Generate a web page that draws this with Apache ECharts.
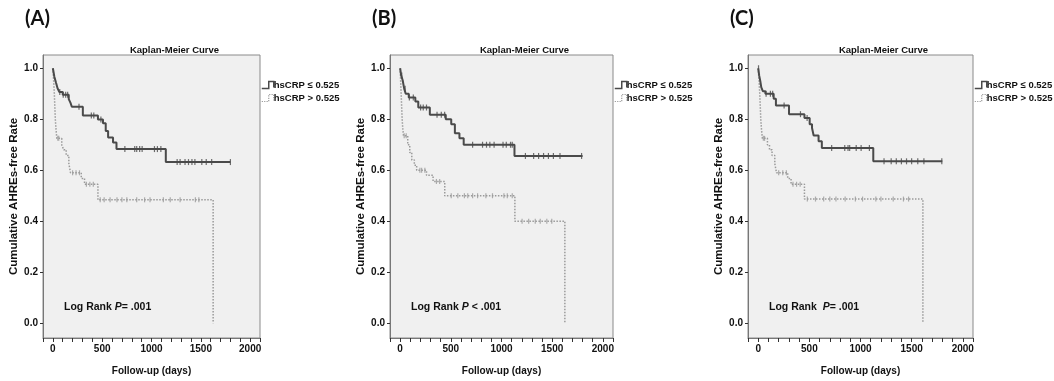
<!DOCTYPE html>
<html><head><meta charset="utf-8">
<script src="https://cdn.jsdelivr.net/npm/echarts@6/dist/echarts.min.js"></script>
<style>html,body{margin:0;padding:0;background:#fff}#c{width:1054px;height:381px}</style>
</head><body><div id="c"></div>
<script>
// ---------- tick labels / text ----------
const xTickLabels = [0, 500, 1000, 1500, 2000];
const xTickMarks = [-100,0,100,200,300,400,500,600,700,800,900,1000,1100,1200,1300,1400,1500,1600,1700,1800,1900,2000,2100];
const yTickLabels = [0, 0.2, 0.4, 0.6, 0.8, 1.0];
const panelLetters = ['(A)', '(B)', '(C)'];
const legendNames = ['hsCRP \u2264 0.525', 'hsCRP > 0.525'];
const logRankPrefix = ['Log Rank ', 'Log Rank ', 'Log Rank  '];
const logRankSuffix = ['= .001', ' < .001', '= .001'];

// ---------- Panel A ----------
const aLowRiskTime = [0, 15, 32, 49, 66, 100, 161, 179, 192, 304, 457, 508, 536, 560, 610, 645, 1145, 1800];
const aLowRiskSurv = [1.0, 0.967, 0.943, 0.92, 0.907, 0.896, 0.879, 0.864, 0.849, 0.815, 0.799, 0.784, 0.754, 0.728, 0.709, 0.683, 0.632, 0.632];
const aHighRiskTime = [0, 8, 15, 20, 25, 32, 40, 90, 110, 135, 162, 179, 288, 321, 457, 1625];
const aHighRiskSurv = [1.0, 0.95, 0.90, 0.85, 0.80, 0.76, 0.725, 0.70, 0.68, 0.658, 0.626, 0.59, 0.568, 0.545, 0.484, 0.0];
const aLowRiskCensor = [70, 105, 130, 150, 265, 390, 415, 487, 730, 830, 850, 880, 905, 1030, 1060, 1095, 1260, 1290, 1340, 1375, 1410, 1440, 1510, 1555, 1610, 1800];
const aHighRiskCensor = [50, 60, 200, 235, 270, 340, 375, 410, 480, 520, 580, 650, 700, 750, 850, 930, 985, 1120, 1190, 1290, 1445, 1480];

// ---------- Panel B ----------
const bLowRiskTime = [0, 10, 25, 40, 55, 85, 150, 179, 293, 450, 504, 540, 585, 627, 1128, 1800];
const bLowRiskSurv = [1.0, 0.972, 0.953, 0.92, 0.90, 0.885, 0.87, 0.846, 0.818, 0.80, 0.78, 0.745, 0.725, 0.70, 0.656, 0.656];
const bHighRiskTime = [0, 5, 10, 15, 20, 25, 33, 75, 95, 115, 140, 163, 260, 325, 440, 1132, 1625];
const bHighRiskSurv = [1.0, 0.95, 0.90, 0.85, 0.80, 0.77, 0.735, 0.70, 0.67, 0.64, 0.62, 0.60, 0.58, 0.556, 0.50, 0.40, 0.0];
const bLowRiskCensor = [16, 49, 91, 130, 202, 228, 260, 364, 406, 439, 715, 813, 852, 885, 927, 1015, 1047, 1089, 1106, 1236, 1317, 1366, 1415, 1463, 1512, 1577, 1790];
const bHighRiskCensor = [40, 60, 195, 212, 244, 358, 390, 504, 569, 634, 667, 715, 764, 846, 911, 1024, 1057, 1106, 1203, 1268, 1333, 1382, 1447, 1496];

// ---------- Panel C ----------
const cLowRiskTime = [0, 10, 20, 30, 45, 70, 151, 173, 301, 452, 503, 526, 542, 590, 622, 1125, 1800];
const cLowRiskSurv = [1.0, 0.97, 0.95, 0.925, 0.91, 0.90, 0.88, 0.854, 0.82, 0.805, 0.78, 0.766, 0.736, 0.714, 0.687, 0.635, 0.635];
const cHighRiskTime = [0, 8, 15, 20, 25, 32, 40, 90, 110, 135, 162, 179, 288, 321, 452, 1610];
const cHighRiskSurv = [1.0, 0.95, 0.90, 0.85, 0.80, 0.76, 0.725, 0.70, 0.68, 0.658, 0.626, 0.59, 0.568, 0.545, 0.487, 0.0];
const cLowRiskCensor = [3, 77, 119, 141, 253, 413, 478, 718, 846, 878, 894, 958, 1006, 1087, 1230, 1300, 1350, 1400, 1450, 1500, 1560, 1620, 1795];
const cHighRiskCensor = [50, 62, 200, 240, 275, 340, 375, 410, 480, 560, 640, 700, 760, 850, 950, 1020, 1150, 1200, 1320, 1420, 1470];

// ---------- build ----------
const panels = [
  {lt: aLowRiskTime, ls: aLowRiskSurv, ht: aHighRiskTime, hs: aHighRiskSurv, lc: aLowRiskCensor, hc: aHighRiskCensor},
  {lt: bLowRiskTime, ls: bLowRiskSurv, ht: bHighRiskTime, hs: bHighRiskSurv, lc: bLowRiskCensor, hc: bHighRiskCensor},
  {lt: cLowRiskTime, ls: cLowRiskSurv, ht: cHighRiskTime, hs: cHighRiskSurv, lc: cLowRiskCensor, hc: cHighRiskCensor}
];
const gridBoxes = [
  {left: 43, top: 55, width: 217, height: 287},
  {left: 390, top: 55, width: 223, height: 287},
  {left: 748, top: 55, width: 225, height: 287}
];
const FONT = "'Liberation Sans', Arial, sans-serif";
const darkCol = '#4a4a4a';
const lightCol = '#9a9a9a';
const hatIcon = 'path://M0,8 L7,8 L7,1 L12,1 L12,7';

function pairs(t, s) { return t.map((v, i) => [v, s[i]]); }
function survAt(t, s, x) { let v = s[0]; for (let i = 0; i < t.length; i++) { if (t[i] <= x) v = s[i]; } return v; }

const grid = [], xAxis = [], yAxis = [], series = [], legend = [], graphic = [];
panels.forEach((p, i) => {
  const g = gridBoxes[i];
  grid.push(Object.assign({show: true, backgroundColor: '#f0f0f0', borderColor: '#8a8a8a', borderWidth: 1}, g));
  xAxis.push({
    type: 'value', gridIndex: i, min: -100, max: 2100,
    axisLine: {show: true, onZero: false, lineStyle: {color: '#777', width: 1}},
    axisTick: {show: true, customValues: xTickMarks, length: 4, lineStyle: {color: '#333'}},
    axisLabel: {customValues: xTickLabels, formatter: v => String(v), fontSize: 10, fontWeight: 'bold', color: '#111', margin: 6, fontFamily: FONT},
    splitLine: {show: false},
    name: 'Follow-up (days)', nameLocation: 'middle', nameGap: 28,
    nameTextStyle: {fontSize: 10, fontWeight: 'bold', color: '#111', fontFamily: FONT}
  });
  yAxis.push({
    type: 'value', gridIndex: i, min: -0.058, max: 1.052,
    axisLine: {show: true, onZero: false, lineStyle: {color: '#777', width: 1}},
    axisTick: {show: true, customValues: yTickLabels, length: 3, lineStyle: {color: '#333'}},
    axisLabel: {customValues: yTickLabels, formatter: v => v.toFixed(1), fontSize: 10, fontWeight: 'bold', color: '#111', margin: 5, fontFamily: FONT},
    splitLine: {show: false},
    name: 'Cumulative AHREs-free Rate', nameLocation: 'middle', nameGap: 23, nameRotate: 90,
    nameTextStyle: {fontSize: 11.5, fontWeight: 'bold', color: '#111', fontFamily: FONT}
  });
  series.push({
    type: 'line', name: legendNames[0], xAxisIndex: i, yAxisIndex: i, step: 'end',
    symbol: 'none', showSymbol: false, silent: true, z: 3,
    data: pairs(p.lt, p.ls), lineStyle: {color: darkCol, width: 2}, itemStyle: {color: darkCol}
  });
  series.push({
    type: 'line', name: legendNames[1], xAxisIndex: i, yAxisIndex: i, step: 'end',
    symbol: 'none', showSymbol: false, silent: true, z: 2,
    data: pairs(p.ht, p.hs), lineStyle: {color: lightCol, width: 1.5, type: 'dotted'}, itemStyle: {color: lightCol}
  });
  series.push({
    type: 'scatter', name: 'censored-low', xAxisIndex: i, yAxisIndex: i, silent: true, z: 4,
    symbol: 'rect', symbolSize: [1.2, 6], itemStyle: {color: darkCol},
    data: p.lc.map(x => [x, survAt(p.lt, p.ls, x)])
  });
  series.push({
    type: 'scatter', name: 'censored-high', xAxisIndex: i, yAxisIndex: i, silent: true, z: 4,
    symbol: 'rect', symbolSize: [1.2, 5], itemStyle: {color: lightCol},
    data: p.hc.map(x => [x, survAt(p.ht, p.hs, x)])
  });
  legend.push({
    orient: 'vertical', left: g.left + g.width + 1, top: 80, padding: 0,
    itemWidth: 12, itemHeight: 7, itemGap: 3, selectedMode: false,
    textStyle: {fontSize: 9.5, fontWeight: 'bold', color: '#111', fontFamily: FONT, padding: [0, 0, 0, -5]},
    data: [
      {name: legendNames[0], icon: hatIcon, itemStyle: {color: 'transparent', borderColor: darkCol, borderWidth: 1.5}},
      {name: legendNames[1], icon: hatIcon, itemStyle: {color: 'transparent', borderColor: lightCol, borderWidth: 1.2, borderType: 'dotted'}}
    ]
  });
  // panel letter
  graphic.push({type: 'text', left: g.left - 18, top: 9, silent: true,
    style: {text: panelLetters[i], font: "bold 20px Lato, 'Open Sans', sans-serif", fill: '#111'}});
  // title
  graphic.push({type: 'text', x: g.left + g.width / 2 + 23, y: 50, silent: true,
    style: {text: 'Kaplan-Meier Curve', font: 'bold 9.5px ' + FONT, fill: '#111', textAlign: 'center', textVerticalAlign: 'middle'}});
  // log rank
  graphic.push({type: 'text', x: g.left + 21, y: 307, silent: true,
    style: {text: '{n|' + logRankPrefix[i] + '}{i|P}{n|' + logRankSuffix[i] + '}', textVerticalAlign: 'middle',
      rich: {n: {font: 'bold 10.5px ' + FONT, fill: '#111'}, i: {font: 'italic bold 10.5px ' + FONT, fill: '#111'}}}});
});

const chart = echarts.init(document.getElementById('c'), null, {renderer: 'canvas'});
chart.setOption({animation: false, backgroundColor: '#ffffff', grid, xAxis, yAxis, series, legend, graphic});
</script>
</body></html>
